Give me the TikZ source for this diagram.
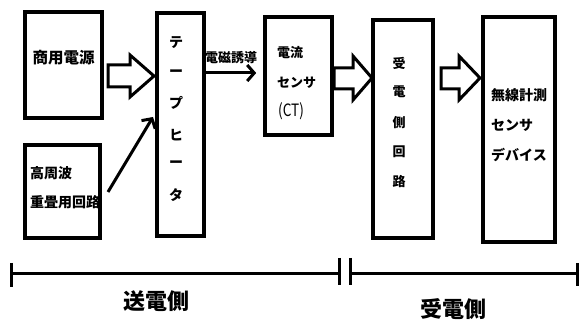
\documentclass[tikz,border=0pt]{standalone}
\usepackage{fontspec}
\setmainfont{Noto Sans CJK JP}
\usetikzlibrary{arrows.meta,calc}
\begin{document}
\begin{tikzpicture}[x=1pt,y=-1pt,
  box/.style={draw,line width=3.6pt,inner sep=0pt},
  txt/.style={inner sep=0pt,font=\bfseries\fontsize{14}{14}\selectfont},
  barrow/.style={draw,line width=3pt,line join=miter,fill=white},
  thin/.style={line width=3pt,-{Straight Barb[length=7pt,width=16pt,line width=3pt]}},
  ruler/.style={line width=3pt},
  tick/.style={line width=3pt}]
\useasboundingbox (0,0) rectangle (579,320);
% boxes
\node[box,minimum width=77,minimum height=106] (src) at (63.5,65) {};
\node[box,minimum width=75,minimum height=93] (hf) at (62.5,191.5) {};
\node[box,minimum width=47,minimum height=223] (heat) at (180.5,124.5) {};
\node[box,minimum width=67,minimum height=118] (ct) at (298.5,76) {};
\node[box,minimum width=60,minimum height=218] (rx) at (403,129) {};
\node[box,minimum width=72,minimum height=225] (dev) at (519,129.5) {};
% texts
\node[txt,font=\bfseries\fontsize{15.5}{15.5}\selectfont] (t1) at (63.5,58) {商用電源};
\node[txt,anchor=west] (t2a) at (30,173) {高周波};
\node[txt,anchor=west] (t2b) at (30,202) {重畳用回路};
\foreach \c/\y [count=\i] in {テ/43,ー/73,プ/103,ヒ/135,ー/164,タ/195}
  \node[txt] (h\i) at (176,\y) {\c};
\node[txt,font=\bfseries\fontsize{13}{13}\selectfont,anchor=west] (c1) at (277,53) {電流};
\node[txt,font=\bfseries\fontsize{13}{13}\selectfont,anchor=west] (c2) at (277,83) {センサ};
\node[txt,font=\fontsize{17}{17}\selectfont,anchor=west] (c3) at (278,111) {\scalebox{0.8}[1]{(CT)}};
\foreach \c/\y [count=\i] in {受/63,電/92,側/123,回/152,路/182}
  \node[txt,font=\bfseries\fontsize{13}{13}\selectfont] (r\i) at (399,\y) {\c};
\node[txt,anchor=west] (d1) at (491,95) {無線計測};
\node[txt,anchor=west] (d2) at (491,125) {センサ};
\node[txt,anchor=west] (d3) at (491,155) {デバイス};
\node[txt,font=\bfseries\fontsize{13}{13}\selectfont] (em) at (231,58) {電磁誘導};
% block arrows
\draw[barrow] (108,65) -- (130,65) -- (130,55) -- (154,76) -- (130,97) -- (130,87) -- (108,87) -- cycle;
\draw[barrow] (334,68) -- (353,68) -- (353,56) -- (372,78) -- (353,100) -- (353,89) -- (334,89) -- cycle;
\draw[barrow] (441,68) -- (459,68) -- (459,56) -- (480,78) -- (459,100) -- (459,89) -- (441,89) -- cycle;
% thin arrows
\draw[thin] (heat.east |- 0,73) -- ($(ct.west |- 0,73)+(-7,0)$);
\coordinate (hfout) at (108,192);
\coordinate (heatin) at (153,117);
\draw[thin] (hfout) -- (heatin);
% ruler
\coordinate (L0) at (11,274);
\coordinate (L1) at (339,274);
\coordinate (R0) at (350,274);
\coordinate (R1) at (577,274);
\draw[ruler] (L0) -- (L1);
\draw[ruler] (R0) -- (R1);
\draw[tick] (11,263) -- (11,287);
\draw[tick] (339,258) -- (339,285);
\draw[tick] (350,258) -- (350,285);
\draw[tick] (577,263) -- (577,286);
\node[txt,font=\bfseries\fontsize{22}{22}\selectfont] (sl) at (156,301) {送電側};
\node[txt,font=\bfseries\fontsize{22}{22}\selectfont] (rl) at (453,309) {受電側};
\end{tikzpicture}
\end{document}
